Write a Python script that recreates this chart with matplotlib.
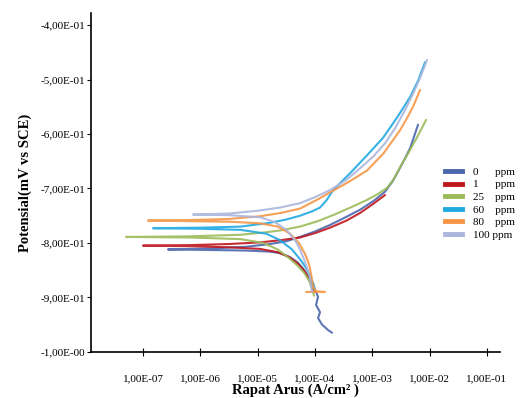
import numpy as np
import matplotlib
matplotlib.use("Agg")
import matplotlib.pyplot as plt

plt.rcParams["font.family"] = ["Liberation Serif", "DejaVu Serif"]

# Each curve runs: cathodic end -> corrosion tip -> anodic end
# log10 of current density (A/cm2) and potential (V vs SCE)
logi_0 = [-3.702, -3.771, -3.876, -3.946, -3.911, -3.981, -3.946, -3.99, -4.051, -4.12, -4.20, -4.30,
          -4.435, -4.60, -4.784, -5.2, -5.8,
          -6.564,
          -5.8, -5.2, -4.784, -4.5, -4.260, -4.0, -3.736, -3.45, -3.213, -2.98, -2.777, -2.64,
          -2.515, -2.42, -2.340, -2.201]
pot_0 = [-0.965, -0.960, -0.950, -0.938, -0.927, -0.914, -0.899, -0.888, -0.876, -0.862, -0.848, -0.836,
         -0.826, -0.819, -0.816, -0.814, -0.813,
         -0.812,
         -0.810, -0.807, -0.802, -0.797, -0.789, -0.779, -0.767, -0.752, -0.739, -0.723, -0.706, -0.686,
         -0.662, -0.643, -0.626, -0.583]

logi_1 = [-4.016, -4.05, -4.10, -4.18, -4.30, -4.45, -4.65, -4.958, -5.5, -6.2,
          -7.0,
          -6.2, -5.5, -4.958, -4.6, -4.260, -4.0, -3.736, -3.45, -3.213, -2.98, -2.777]
pot_1 = [-0.890, -0.880, -0.866, -0.852, -0.838, -0.826, -0.817, -0.811, -0.808, -0.806,
         -0.805,
         -0.804, -0.802, -0.799, -0.795, -0.790, -0.782, -0.772, -0.759, -0.745, -0.728, -0.712]

logi_25 = [-4.016, -4.05, -4.10, -4.18, -4.30, -4.45, -4.65, -4.9, -5.3, -6.2,
           -7.297,
           -6.2, -5.3, -4.9, -4.6, -4.260, -3.95, -3.684, -3.38, -3.091, -2.90, -2.742, -2.62,
           -2.515, -2.36, -2.218, -2.061]
pot_25 = [-0.897, -0.885, -0.870, -0.856, -0.842, -0.828, -0.812, -0.800, -0.793, -0.790,
          -0.789,
          -0.788, -0.785, -0.781, -0.777, -0.770, -0.760, -0.749, -0.735, -0.721, -0.710, -0.699, -0.682,
          -0.661, -0.633, -0.606, -0.574]

logi_60 = [-3.998, -4.03, -4.086, -4.16, -4.260, -4.40, -4.609, -4.85, -5.3, -6.0,
           -6.825,
           -6.0, -5.3, -4.784, -4.5, -4.260, -4.05, -3.911, -3.80, -3.702, -3.55, -3.387, -3.1,
           -2.812, -2.55, -2.340, -2.20, -2.079]
pot_60 = [-0.886, -0.874, -0.861, -0.845, -0.830, -0.812, -0.795, -0.783, -0.776, -0.774,
          -0.773,
          -0.772, -0.770, -0.763, -0.757, -0.750, -0.742, -0.735, -0.722, -0.706, -0.689, -0.672, -0.640,
          -0.607, -0.567, -0.532, -0.502, -0.468]

logi_80 = [-4.155, -3.824, -3.98, -4.033, -4.06, -4.10, -4.173, -4.28, -4.435, -4.65, -4.958, -5.5, -6.2,
           -6.913,
           -6.2, -5.5, -4.958, -4.6, -4.260, -3.95, -3.684, -3.38, -3.091, -2.80, -2.515, -2.40,
           -2.288, -2.166]
pot_80 = [-0.890, -0.890, -0.889, -0.880, -0.862, -0.840, -0.820, -0.800, -0.783, -0.770, -0.764, -0.761, -0.760,
          -0.759,
          -0.758, -0.756, -0.751, -0.745, -0.737, -0.720, -0.704, -0.686, -0.667, -0.635, -0.593, -0.572,
          -0.550, -0.519]

logi_100 = [-4.051, -4.07, -4.10, -4.173, -4.26, -4.347, -4.50, -4.696, -4.95, -5.5,
            -6.127,
            -5.5, -5.0, -4.609, -4.260, -4.0, -3.736, -3.45, -3.213, -2.98, -2.777, -2.60, -2.428,
            -2.28, -2.166, -2.044]
pot_100 = [-0.890, -0.876, -0.858, -0.835, -0.812, -0.795, -0.776, -0.762, -0.753, -0.749,
           -0.748,
           -0.746, -0.741, -0.735, -0.727, -0.716, -0.703, -0.684, -0.663, -0.641, -0.617, -0.589, -0.556,
           -0.524, -0.497, -0.464]

labels = ["0      ppm", "1      ppm", "25    ppm", "60    ppm", "80    ppm", "100 ppm"]
colors = ["#4a66ac", "#c0171f", "#9bbb59", "#21a9e1", "#f79646", "#aab6dc"]
series = [(logi_0, pot_0), (logi_1, pot_1), (logi_25, pot_25),
          (logi_60, pot_60), (logi_80, pot_80), (logi_100, pot_100)]

x_ticks = [1e-7, 1e-6, 1e-5, 1e-4, 1e-3, 1e-2, 1e-1]
x_labels = ["1,00E-07", "1,00E-06", "1,00E-05", "1,00E-04", "1,00E-03", "1,00E-02", "1,00E-01"]
y_ticks = [-1.0, -0.9, -0.8, -0.7, -0.6, -0.5, -0.4]
y_labels = ["-1,00E-00", "-9,00E-01", "-8,00E-01", "-7,00E-01", "-6,00E-01", "-5,00E-01", "-4,00E-01"]

fig = plt.figure(figsize=(5.22, 3.98), dpi=100)
ax = fig.add_axes([0.174, 0.116, 0.784, 0.851])

handles = []
for (li, pot), col in zip(series, colors):
    ax.plot(10 ** np.array(li), pot, color=col, lw=1.5, alpha=0.9,
            solid_joinstyle="round", solid_capstyle="round")
    h, = ax.plot([], [], color=col, lw=3.5)
    handles.append(h)

ax.set_xscale("log")
ax.set_xlim(10 ** -7.91, 10 ** -0.77)
ax.set_ylim(-1.0, -0.378)
ax.set_xticks(x_ticks)
ax.set_xticklabels(x_labels)
ax.minorticks_off()
ax.set_yticks(y_ticks)
ax.set_yticklabels(y_labels)

for side in ["top", "right"]:
    ax.spines[side].set_visible(False)
for side in ["left", "bottom"]:
    ax.spines[side].set_linewidth(1.2)

ax.tick_params(axis="x", direction="inout", length=6, width=0.8, pad=13, labelsize=8)
ax.tick_params(axis="y", direction="out", length=3, width=0.8, pad=1, labelsize=8)

ax.set_xlabel("Rapat Arus (A/cm² )", fontsize=10.5, fontweight="bold")
ax.xaxis.set_label_coords(0.5, -0.113)
ax.xaxis.label.set_va("center")
ax.set_ylabel("Potensial(mV vs SCE)", fontsize=10.5, fontweight="bold", labelpad=6)

fig.legend(handles, labels, loc="upper left", bbox_to_anchor=(0.852, 0.58),
           frameon=False, fontsize=8, handlelength=1.55, handletextpad=1.0,
           labelspacing=0.25, borderpad=0, borderaxespad=0)

fig.savefig("out.png", dpi=100)
